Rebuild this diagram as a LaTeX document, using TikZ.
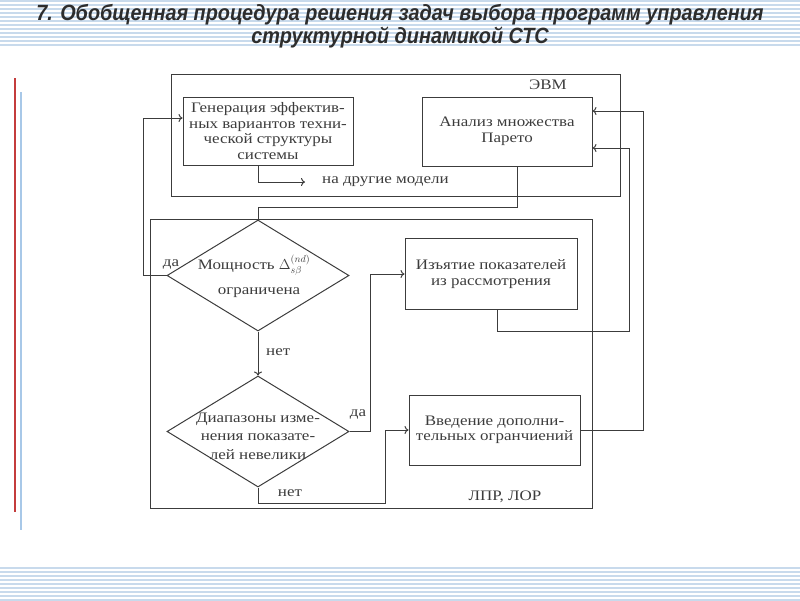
\documentclass[tikz,border=0pt]{standalone}
\usepackage{fontspec}
\setmainfont{Liberation Serif}[FakeStretch=1.17]
\newfontfamily\ttlfont{Liberation Sans}
\usetikzlibrary{arrows,arrows.meta,shapes.geometric}
\definecolor{linegray}{RGB}{60,60,60}
\definecolor{ttlgray}{RGB}{45,45,45}
\definecolor{stripeblue}{RGB}{200,218,236}
\definecolor{sidered}{RGB}{196,60,60}
\definecolor{sideblue}{RGB}{168,200,232}
\newcommand{\dgfont}{\fontsize{14.5}{15.5}\selectfont}

\begin{document}
\begin{tikzpicture}[x=1pt,y=-1pt,>={To[length=4pt,width=8pt]},
  line/.style={draw=linegray,line width=1pt},
  blk/.style={line,rectangle,align=center,inner sep=0pt,font=\dgfont,text=linegray},
  frm/.style={line,rectangle,inner sep=0pt},
  decide/.style={line,diamond,inner sep=0pt,minimum width=182pt,minimum height=111pt},
  lbl/.style={font=\dgfont,inner sep=0pt,text=linegray},
  ttl/.style={font=\ttlfont\bfseries\itshape\fontsize{21}{25}\selectfont,text=ttlgray,inner sep=0pt}]
  \path[use as bounding box] (0,0) rectangle (800,600);
  % page decoration
  \foreach \y in {1,5,...,45} \draw[stripeblue,line width=1.2pt] (0,\y) -- (800,\y);
  \foreach \y in {568,572,...,600} \draw[stripeblue,line width=1.2pt] (0,\y) -- (800,\y);
  \draw[sidered,line width=2pt] (15,78) -- (15,512);
  \draw[sideblue,line width=2.5pt] (21,92) -- (21,530);
  \node[ttl] (ttl1) at (400,15) {\scalebox{0.945}[1.05]{7. Обобщенная процедура решения задач выбора программ управления}};
  \node[ttl] (ttl2) at (400,38) {\scalebox{0.945}[1.05]{структурной динамикой СТС}};
  % frames
  \node[frm,minimum width=449pt,minimum height=122pt] (evm) at (395.5,135) {};
  \node[frm,minimum width=442pt,minimum height=289pt] (lpr) at (371,363.5) {};
  \node[lbl] (evmlbl) at (548,85) {ЭВМ};
  \node[lbl] (lprlbl) at (505,497) {ЛПР, ЛОР};
  % blocks
  \node[blk,minimum width=170pt,minimum height=68pt] (gen) at (268,131)
    {Генерация эффектив-\\ных вариантов техни-\\ческой структуры\\системы};
  \node[blk,minimum width=170pt,minimum height=69pt] (an) at (507,131.5)
    {Анализ множества\\Парето};
  \node[blk,minimum width=172pt,minimum height=71pt] (izy) at (491,274)
    {Изъятие показателей\\из рассмотрения};
  \node[blk,minimum width=171pt,minimum height=70pt] (vv) at (494.5,430)
    {Введение дополни-\\тельных огранчиений};
  \node[decide] (d1) at (258,275.5) {};
  \node[lbl,align=center] (d1txt) at (254,276) {Мощность $\Delta^{(nd)}_{s\beta}$\\[9pt]\hspace*{10pt}ограничена};
  \node[decide] (d2) at (258,431.5) {};
  \node[lbl,align=center,font=\fontsize{14.5}{18.5}\selectfont] (d2txt) at (258,436) {Диапазоны изме-\\нения показате-\\лей невелики};
  % connectors
  \coordinate (oth) at (305,182);
  \node[lbl,anchor=west] (othlbl) at (322,182) {на другие модели};
  \draw[line,->] (gen.south -| d1.north) |- (oth);
  \coordinate (j1) at (258,207);
  \draw[line] ([xshift=10pt]an.south) |- (j1) -- (d1.north);
  \coordinate (j2) at (143,118);
  \draw[line,->] (d1.west) -| (j2) -- (j2 -| gen.west);
  \node[lbl] (da1) at (171,264) {да};
  \draw[line,->] (d1.south) -- (d2.north);
  \node[lbl,anchor=west] (net1) at (266,352) {нет};
  \coordinate (j3) at (370,0);
  \draw[line,->] (d2.east) -| (j3 |- izy.west) -- (izy.west);
  \node[lbl] (da2) at (358,414) {да};
  \coordinate (j4) at (385,503);
  \draw[line,->] (d2.south) |- (j4) |- (vv.west);
  \node[lbl] (net2) at (290,493) {нет};
  \coordinate (j5) at (629,331);
  \draw[line,->] ([xshift=6pt]izy.south) |- (j5) |- ([yshift=-16.5pt]an.east);
  \coordinate (j6) at (643,111);
  \draw[line,->] (vv.east) -| (j6) -- (j6 -| an.east);
\end{tikzpicture}
\end{document}
